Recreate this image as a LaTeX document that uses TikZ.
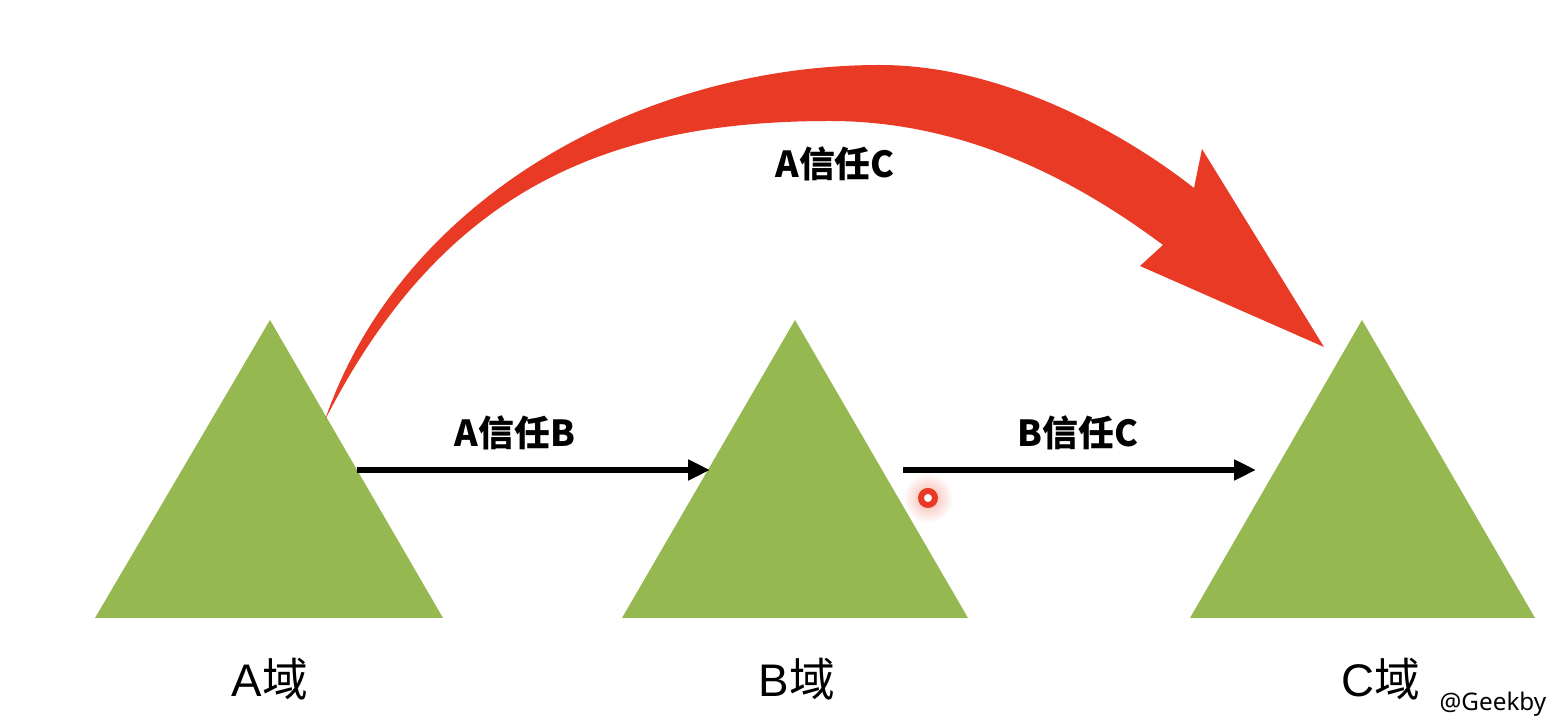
\documentclass[tikz,border=0pt]{standalone}
\usepackage{fontspec}
\setmainfont{Liberation Sans}
\newfontfamily\cjk{Noto Sans CJK SC}
\newfontfamily\notosans{Noto Sans}
\usetikzlibrary{arrows.meta}
\definecolor{trigreen}{HTML}{95B851}
\definecolor{arcred}{HTML}{E83A24}
\begin{document}
\begin{tikzpicture}[x=0.01cm,y=-0.01cm,
  domlbl/.style={inner sep=0pt,font=\fontsize{13}{13}\selectfont},
  trustlbl/.style={inner sep=0pt,font=\cjk\bfseries\fontsize{10.2}{10.2}\selectfont},
  trustarrow/.style={line width=1.6pt,-{Triangle[length=6.2pt,width=5.6pt]}},
  mountain/.style={fill=trigreen}]
\useasboundingbox (0,0) rectangle (1556,728);
\fill[white] (0,0) rectangle (1556,728);
% domains (triangles)
\fill[mountain] (95,618) -- (270,320) -- (443,618) -- cycle;
\fill[mountain] (622,618) -- (795,320) -- (968,618) -- cycle;
\fill[mountain] (1190,618) -- (1362,320) -- (1535,618) -- cycle;
% connector endpoints
\coordinate (a1) at (357,470);
\coordinate (b0) at (710,470);
\coordinate (b1) at (903,470);
\coordinate (c0) at (1256,470);
\draw[trustarrow] (a1) -- (b0);
\draw[trustarrow] (b1) -- (c0);
% big red curved arrow
\fill[arcred] (325,420) .. controls (400,200) and (640,65) .. (880,65)
  .. controls (1000,65) and (1120,130) .. (1194,188)
  -- (1202,149) -- (1324,347) -- (1140,266) -- (1163,245)
  .. controls (1060,168) and (950,121) .. (830,121)
  .. controls (600,121) and (440,195) .. (325,420) -- cycle;
% cursor marker
\shade[inner color=arcred!40, outer color=white] (928,498) circle (25);
\draw[arcred,line width=1.7pt,fill=white] (928,498) circle (7);
% labels
\node[trustlbl] (tAB) at (515,433) {A信任B};
\node[trustlbl] (tBC) at (1078,433) {B信任C};
\node[trustlbl] (tAC) at (835,164) {A信任C};
\node[domlbl] (dA) at (270,679) {A{\cjk 域}};
\node[domlbl] (dB) at (797,679) {B{\cjk 域}};
\node[domlbl] (dC) at (1381,679) {C{\cjk 域}};
\node[inner sep=0pt,anchor=east,font=\notosans\fontsize{6.9}{6.9}\selectfont] (wm) at (1547,704) {@Geekby};
\end{tikzpicture}
\end{document}
